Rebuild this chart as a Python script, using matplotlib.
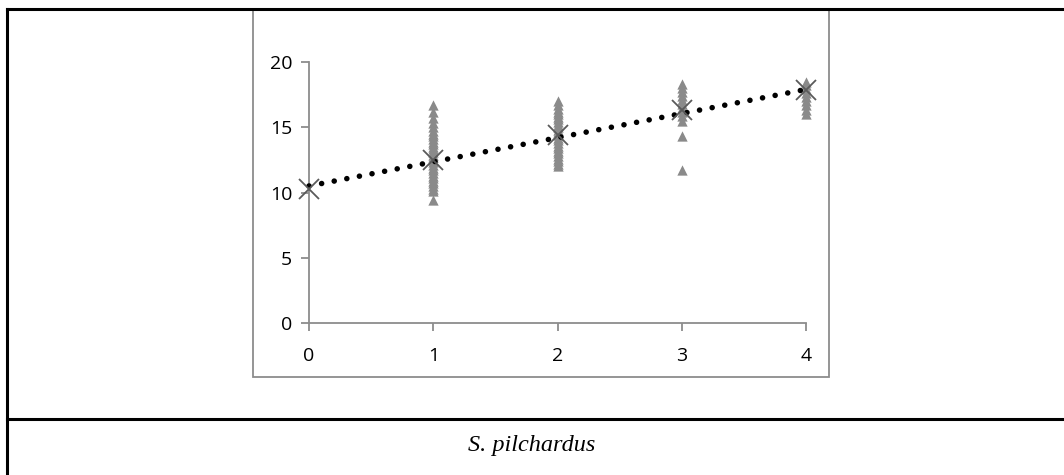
import matplotlib
matplotlib.use("Agg")
import matplotlib.pyplot as plt
from matplotlib.lines import Line2D
from matplotlib.patches import Rectangle

# ---- data ----
ages_1 = [9.4, 10.1, 10.3, 10.5, 10.7, 10.9, 11.1, 11.3, 11.5, 11.7, 11.9, 12.1, 12.3,
          12.5, 12.7, 12.9, 13.1, 13.3, 13.5, 13.7, 13.9, 14.1, 14.3, 14.5, 14.7,
          15.0, 15.3, 15.7, 16.2, 16.7]
ages_2 = [12.0, 12.2, 12.4, 12.6, 12.8, 13.0, 13.2, 13.4, 13.6, 13.8, 14.0, 14.2, 14.4,
          14.6, 14.8, 15.0, 15.2, 15.4, 15.6, 15.8, 16.0, 16.2, 16.4, 16.7, 17.0]
ages_3 = [11.7, 14.3, 15.5, 15.9, 16.2, 16.5, 16.8, 17.1, 17.4, 17.7, 18.0, 18.3]
ages_4 = [16.0, 16.3, 16.7, 17.0, 17.3, 17.6, 17.9, 18.2, 18.5]
obs_x = [1] * len(ages_1) + [2] * len(ages_2) + [3] * len(ages_3) + [4] * len(ages_4)
obs_y = ages_1 + ages_2 + ages_3 + ages_4

mean_x = [0, 1, 2, 3, 4]
mean_y = [10.3, 12.5, 14.4, 16.3, 17.85]

trend_x = [0, 4]
trend_y = [10.5, 17.9]

x_ticks = [0, 1, 2, 3, 4]
y_ticks = [0, 5, 10, 15, 20]
caption = "S. pilchardus"

# ---- figure ----
W, H = 1064, 475
fig = plt.figure(figsize=(W / 100, H / 100), dpi=100)

def fx(px):
    return px / W

def fy(py):
    return 1 - py / H

# table frame (black)
fig.add_artist(Line2D([fx(7), fx(1064)], [fy(9), fy(9)], color="black", lw=2.2))
fig.add_artist(Line2D([fx(7), fx(7)], [fy(9), fy(475)], color="black", lw=2.2))
fig.add_artist(Line2D([fx(7), fx(1064)], [fy(419), fy(419)], color="black", lw=2.2))

# chart box (gray)
fig.add_artist(Rectangle((fx(253), fy(377)), fx(829) - fx(253), fy(9) - fy(377),
                         fill=False, edgecolor="#8c8c8c", lw=1.3))

ax = fig.add_axes([fx(309), fy(323), fx(806) - fx(309), fy(62) - fy(323)])
ax.patch.set_alpha(0)

ax.scatter(obs_x, obs_y, marker="^", s=55, color="#8a8a8a", linewidths=0, zorder=2,
           clip_on=False)
ax.plot(trend_x, trend_y, color="black", lw=4.0, linestyle=(0, (0.01, 2.3)),
        dash_capstyle="round", zorder=3, clip_on=False)
ax.plot(mean_x, mean_y, linestyle="none", marker="x", markersize=15, mew=1.3,
        color="#5a5a5a", zorder=4, clip_on=False)

ax.set_xlim(0, 4)
ax.set_ylim(0, 20)
ax.set_xticks(x_ticks)
ax.set_yticks(y_ticks)
for s in ["top", "right"]:
    ax.spines[s].set_visible(False)
for s in ["left", "bottom"]:
    ax.spines[s].set_color("#8c8c8c")
    ax.spines[s].set_linewidth(1.3)
ax.tick_params(axis="both", direction="out", length=6, width=1.3, color="#8c8c8c",
               labelsize=14, labelcolor="black")
ax.tick_params(axis="y", pad=6)
ax.tick_params(axis="x", pad=11)
for lab in ax.get_xticklabels() + ax.get_yticklabels():
    lab.set_family(["Open Sans", "DejaVu Sans"])

fig.text(0.5, fy(446), caption, ha="center", va="center", fontsize=17.5,
         family="Liberation Serif", style="italic")

fig.savefig("out.png", dpi=100)
